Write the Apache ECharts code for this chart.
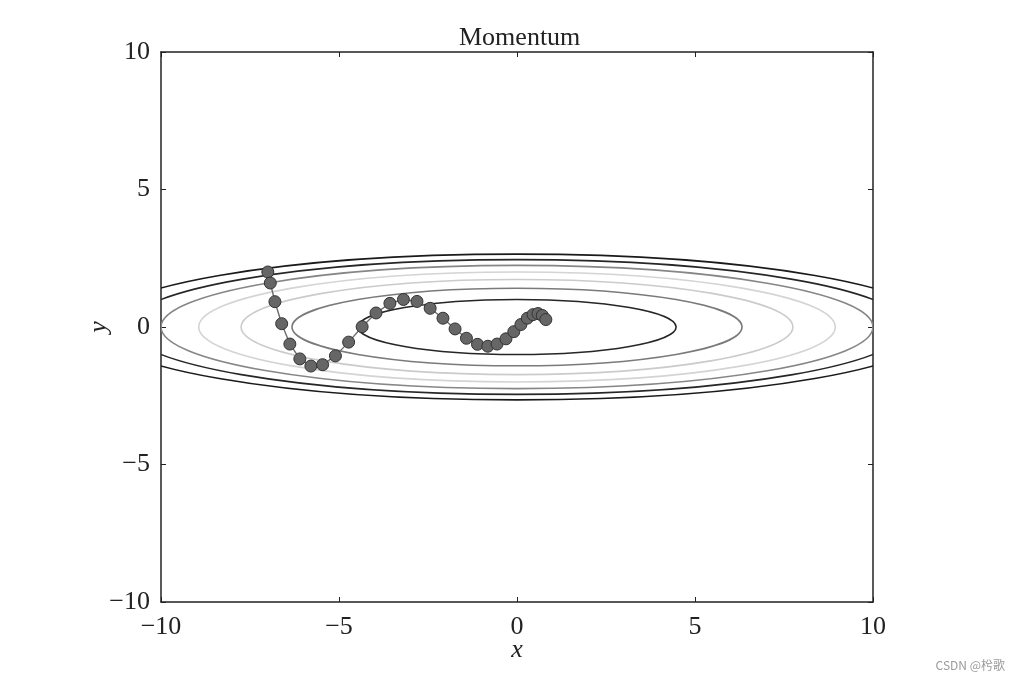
<!DOCTYPE html>
<html>
<head>
<meta charset="utf-8">
<script src="https://cdn.jsdelivr.net/npm/echarts@6/dist/echarts.min.js"></script>
<style>
  html, body { margin: 0; padding: 0; background: #fff; }
  #chart { width: 1020px; height: 682px; }
</style>
</head>
<body>
<div id="chart"></div>
<script>
// momentum path
const pathX = [-7.00, -6.93, -6.80, -6.61, -6.38, -6.10, -5.79, -5.46, -5.10, -4.73,
               -4.35, -3.96, -3.57, -3.19, -2.81, -2.44, -2.08, -1.74, -1.42, -1.11,
               -0.82, -0.56, -0.31, -0.09, 0.11, 0.29, 0.45, 0.59, 0.71, 0.81]
const pathY = [2.00, 1.60, 0.92, 0.12, -0.62, -1.16, -1.42, -1.37, -1.05, -0.55,
               0.01, 0.51, 0.86, 1.00, 0.93, 0.68, 0.32, -0.07, -0.41, -0.63,
               -0.70, -0.62, -0.43, -0.17, 0.09, 0.32, 0.45, 0.49, 0.42, 0.27]

// contour ellipses (half widths in x and y, data units)
const contourRx = [4.47, 6.32, 7.75, 8.94, 10.0, 10.95, 11.83]
const contourRy = [1.00, 1.41, 1.73, 2.00, 2.24, 2.45, 2.65]
const contourColors = ['#262626', '#7a7a7a', '#cbcbcb', '#d4d4d4', '#868686', '#262626', '#1a1a1a']

const ticks = [-10, -5, 0, 5, 10]

const serif = '"Liberation Serif", "DejaVu Serif", serif'
const minus = v => String(v).replace('-', '\u2212')

const chart = echarts.init(document.getElementById('chart'), null, { renderer: 'canvas' })

function axisBase(pos, showLabel) {
  return {
    type: 'value',
    position: pos,
    min: ticks[0],
    max: ticks[ticks.length - 1],
    interval: 5,
    axisLine: { show: true, onZero: false, lineStyle: { color: '#222', width: 1.5 } },
    axisTick: { show: true, inside: true, length: 5, lineStyle: { color: '#222', width: 1 } },
    axisLabel: {
      show: showLabel,
      formatter: minus,
      fontFamily: serif,
      fontSize: 26,
      color: '#222',
    },
    splitLine: { show: false },
  }
}

const xBottom = Object.assign(axisBase('bottom', true), {
  name: 'x',
  nameLocation: 'middle',
  nameGap: 35,
  nameMoveOverlap: false,
  nameTextStyle: { fontFamily: serif, fontStyle: 'italic', fontSize: 26, color: '#222' },
})
xBottom.axisLabel.margin = 12

const yLeft = Object.assign(axisBase('left', true), {
  name: 'y',
  nameLocation: 'middle',
  nameGap: 49,
  nameMoveOverlap: false,
  nameRotate: 90,
  nameTextStyle: { fontFamily: serif, fontStyle: 'italic', fontSize: 26, color: '#222' },
})
yLeft.axisLabel.margin = 11

const contourData = contourRx.map((rx, i) => [rx, contourRy[i]])
const pathData = pathX.map((x, i) => [x, pathY[i]])

const option = {
  animation: false,
  backgroundColor: '#fff',
  title: {
    text: 'Momentum',
    left: 454,
    top: 20,
    textStyle: { fontFamily: serif, fontWeight: 'normal', fontSize: 26, color: '#222' },
  },
  grid: { left: 161, right: 147, top: 52, bottom: 80 },
  xAxis: [xBottom, axisBase('top', false)],
  yAxis: [yLeft, axisBase('right', false)],
  graphic: [{
    type: 'text',
    right: 15,
    top: 659,
    style: { text: 'CSDN @枍歌', fontSize: 12, fill: '#9a9a9a', fontFamily: '"Noto Sans CJK SC", sans-serif' },
  }],
  series: [
    {
      type: 'custom',
      data: contourData,
      z: 1,
      renderItem(params, api) {
        const c = api.coord([0, 0])
        const rx = api.size([api.value(0), 0])[0]
        const ry = api.size([0, api.value(1)])[1]
        const cs = params.coordSys
        return {
          type: 'ellipse',
          shape: { cx: c[0], cy: c[1], rx: rx, ry: ry },
          style: { fill: 'none', stroke: contourColors[params.dataIndex], lineWidth: 1.6 },
          clipPath: { type: 'rect', shape: { x: cs.x, y: cs.y, width: cs.width, height: cs.height } },
        }
      },
    },
    {
      type: 'line',
      data: pathData,
      z: 3,
      symbol: 'circle',
      symbolSize: 12,
      showAllSymbol: true,
      lineStyle: { color: '#6a6a6a', width: 1.4 },
      itemStyle: { color: '#666', borderColor: '#333', borderWidth: 1 },
    },
  ],
}

chart.setOption(option)
</script>
</body>
</html>
